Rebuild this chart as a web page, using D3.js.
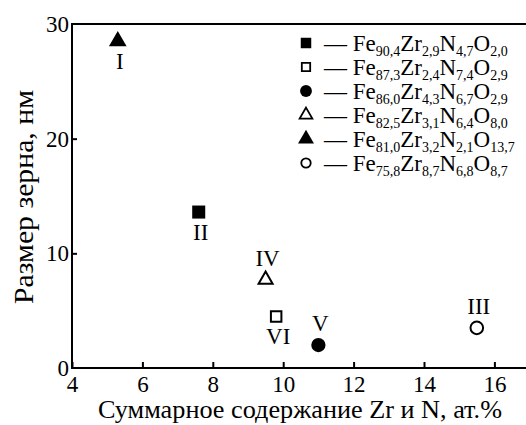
<!DOCTYPE html>
<html>
<head>
<meta charset="utf-8">
<script src="https://cdn.jsdelivr.net/npm/d3@7/dist/d3.min.js"></script>
<style>
  body { margin: 0; background: #fff; }
  svg, svg text { font-family: 'Liberation Serif', 'DejaVu Serif', serif; }
</style>
</head>
<body>
<div id="chart"></div>
<script>
// данные
const sampleIds = ['I', 'II', 'III', 'IV', 'V', 'VI'];
const zrNContent = [5.3, 7.6, 15.5, 9.5, 11.0, 9.8];
const grainSize = [28.5, 13.6, 3.5, 7.7, 2.0, 4.5];
const markerKind = ['triangle', 'square', 'circle', 'triangle', 'circle', 'square'];
const markerFilled = [true, true, false, false, true, false];
const labelSide = ['below', 'below', 'above', 'above', 'above', 'below'];

const legendKind = ['square', 'square', 'circle', 'triangle', 'triangle', 'circle'];
const legendFilled = [true, false, true, false, true, false];
const legendFe = ['90,4', '87,3', '86,0', '82,5', '81,0', '75,8'];
const legendZr = ['2,9', '2,4', '4,3', '3,1', '3,2', '8,7'];
const legendN = ['4,7', '7,4', '6,7', '6,4', '2,1', '6,8'];
const legendO = ['2,0', '2,9', '2,9', '8,0', '13,7', '8,7'];

const xTicks = [4, 6, 8, 10, 12, 14, 16];
const yTicks = [0, 10, 20, 30];

const width = 526;
const height = 425;
const margin = { left: 72, top: 24, bottom: 57 };
const fontFamily = "'Liberation Serif', 'DejaVu Serif', serif";

const x = d3.scaleLinear().domain([4, 17]).range([margin.left, margin.left + 13 * 35.2]);
const y = d3.scaleLinear().domain([0, 30]).range([height - margin.bottom, margin.top]);

const svg = d3.select('#chart').append('svg')
  .attr('width', width)
  .attr('height', height)
  .attr('font-family', fontFamily);

// рамка
svg.append('rect')
  .attr('x', x(4))
  .attr('y', y(30))
  .attr('width', x(17) - x(4))
  .attr('height', y(0) - y(30))
  .attr('fill', 'none')
  .attr('stroke', '#000')
  .attr('stroke-width', 2);

const xAxis = svg.append('g')
  .attr('transform', `translate(0, ${y(0)})`)
  .call(d3.axisBottom(x).tickValues(xTicks).tickSize(-6).tickPadding(8).tickFormat(d3.format('d')))
  .attr('font-family', fontFamily)
  .attr('font-size', 23);
xAxis.select('.domain').remove();
xAxis.selectAll('.tick line').attr('stroke-width', 2);

const yAxis = svg.append('g')
  .attr('transform', `translate(${x(4)}, 0)`)
  .call(d3.axisLeft(y).tickValues(yTicks).tickSize(-5).tickPadding(3).tickFormat(d3.format('d')))
  .attr('font-family', fontFamily)
  .attr('font-size', 23);
yAxis.select('.domain').remove();
yAxis.selectAll('.tick line').attr('stroke-width', 2);
yAxis.selectAll('.tick')
  .filter((d) => d === 0 || d === 30)
  .select('line')
  .remove();

// подписи осей
svg.append('text')
  .attr('x', 300)
  .attr('y', 418)
  .attr('text-anchor', 'middle')
  .attr('font-size', 26)
  .attr('textLength', 404)
  .attr('lengthAdjust', 'spacingAndGlyphs')
  .text('Суммарное содержание Zr и N, ат.%');

svg.append('text')
  .attr('transform', 'translate(33, 197) rotate(-90)')
  .attr('text-anchor', 'middle')
  .attr('font-size', 28)
  .attr('textLength', 214)
  .attr('lengthAdjust', 'spacingAndGlyphs')
  .text('Размер зерна, нм');

const symbolType = { square: d3.symbolSquare, circle: d3.symbolCircle, triangle: d3.symbolTriangle };
const filledSize = { square: 170, circle: 160, triangle: 135 };
const openSize = { square: 110, circle: 125, triangle: 85 };

// точки
const points = svg.append('g');
sampleIds.forEach((id, i) => {
  const px = x(zrNContent[i]);
  const py = y(grainSize[i]);
  const kind = markerKind[i];
  const size = markerFilled[i] ? filledSize[kind] : openSize[kind];
  points.append('path')
    .attr('transform', `translate(${px}, ${py})`)
    .attr('d', d3.symbol().type(symbolType[kind]).size(size)())
    .attr('fill', markerFilled[i] ? '#000' : '#fff')
    .attr('stroke', '#000')
    .attr('stroke-width', markerFilled[i] ? 0 : 2);
  points.append('text')
    .attr('x', px + 2)
    .attr('y', labelSide[i] === 'below' ? py + 28 : py - 14)
    .attr('text-anchor', 'middle')
    .attr('font-size', 23)
    .text(id);
});

// легенда
const legend = svg.append('g');
const legendFilledSize = { square: 110, circle: 110, triangle: 110 };
const legendOpenSize = { square: 70, circle: 70, triangle: 70 };
legendKind.forEach((kind, i) => {
  const ly = 43 + i * 24;
  const size = legendFilled[i] ? legendFilledSize[kind] : legendOpenSize[kind];
  legend.append('path')
    .attr('transform', `translate(306, ${ly})`)
    .attr('d', d3.symbol().type(symbolType[kind]).size(size)())
    .attr('fill', legendFilled[i] ? '#000' : '#fff')
    .attr('stroke', '#000')
    .attr('stroke-width', legendFilled[i] ? 0 : 1.8);
  const t = legend.append('text')
    .attr('x', 324)
    .attr('y', ly + 8)
    .attr('font-size', 23);
  t.append('tspan').text('— Fe');
  const parts = [[legendFe[i], 'Zr'], [legendZr[i], 'N'], [legendN[i], 'O'], [legendO[i], '']];
  parts.forEach(([sub, el]) => {
    t.append('tspan').attr('font-size', 14).attr('dy', 5).text(sub);
    if (el) t.append('tspan').attr('dy', -5).text(el);
  });
});
</script>
</body>
</html>
